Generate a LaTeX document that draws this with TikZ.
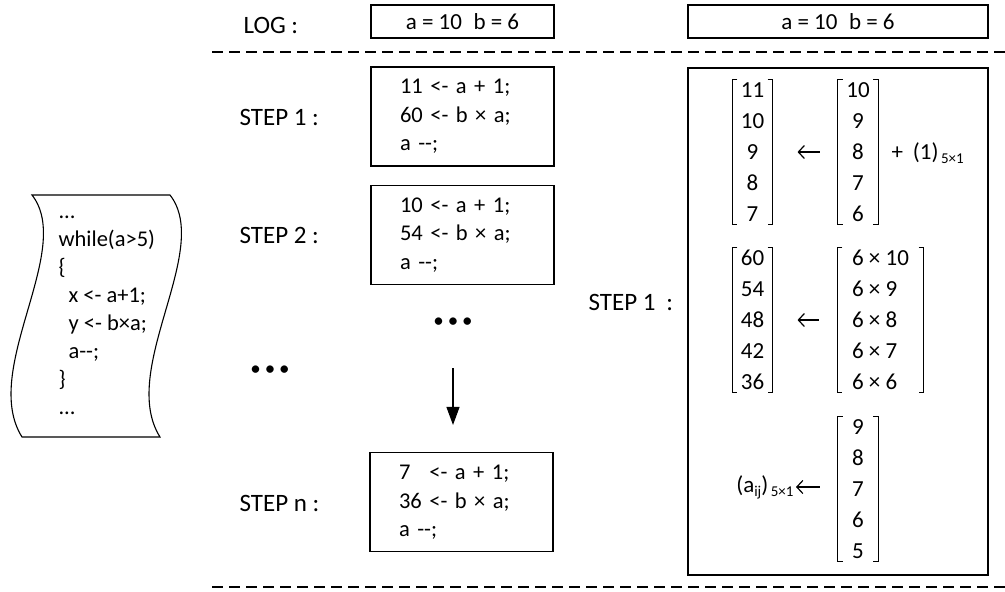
\documentclass[tikz,border=0pt]{standalone}
\usepackage{fontspec}
\setmainfont{Carlito}[Ligatures=TeXOff]
\usetikzlibrary{positioning,arrows.meta}

\newcommand{\vecbrackets}[1]{%
\draw[line width=1pt] (#1.north west) ++(5,0) -- (#1.north west) -- (#1.south west) -- ++(5,0);
\draw[line width=1pt] (#1.north east) ++(-5,0) -- (#1.north east) -- (#1.south east) -- ++(-5,0);
}
\newcommand{\smallsub}[1]{\raisebox{-4pt}{\fontsize{15}{15}\selectfont #1}}

\begin{document}
\begin{tikzpicture}[x=1pt,y=-1pt,line width=1.1pt,
  every node/.style={font=\fontsize{23}{28.5}\selectfont},
  steplabel/.style={font=\fontsize{25}{30}\selectfont,anchor=west,inner sep=0pt},
  logbox/.style={draw,minimum height=33pt,inner sep=0pt},
  stepbox/.style={draw,align=left,text width=125pt,inner xsep=29pt,minimum height=99pt,
    font=\fontsize{22.5}{28.5}\selectfont},
  colvec/.style={align=center,inner sep=0pt,minimum width=39pt,minimum height=144pt,
    font=\fontsize{23}{31}\selectfont},
  sep/.style={dash pattern=on 11pt off 6pt},
  dotrow/.style={font=\fontsize{21}{21}\selectfont,inner sep=0pt},
  gets/.style={{Straight Barb[length=6pt,width=13pt]}-,line width=1.2pt}]
\useasboundingbox (0,0) rectangle (1005,592);

% the loop as written in the program
\draw (32,195) -- (170,195) .. controls (213,250) and (118,370) .. (160,437)
  -- (22,437) .. controls (-20,370) and (75,250) .. (32,195) -- cycle;
\node[align=left,anchor=west,inner sep=0pt,font=\fontsize{22.5}{28}\selectfont] (code) at (58,311)
  {\strut...\\while(a>5)\\\{\\\hspace*{10pt}x <- a+1;\\\hspace*{10pt}y <- b×a;\\\hspace*{10pt}a--;\\\}\\\strut...};

% log row and separators
\node[steplabel] (log) at (243,25) {LOG :};
\node[logbox,minimum width=183pt] (log1) at (462.5,21.5) {a = 10\hspace{0.5em}b = 6};
\node[logbox,minimum width=300pt] (log2) at (838,21.5) {a = 10\hspace{0.5em}b = 6};
\coordinate (sepA) at (212,52);
\coordinate (sepB) at (1005,52);
\coordinate (sepC) at (212,587);
\coordinate (sepD) at (1005,587);
\draw[sep] (sepA) -- (sepB);
\draw[sep] (sepC) -- (sepD);

% steps one by one
\node[steplabel] (l1) at (239,117) {STEP 1 :};
\node[stepbox] (s1) at (462.5,116.5) {11 <- a + 1;\\60 <- b × a;\\a --;};
\node[steplabel] (l2) at (239,235) {STEP 2 :};
\node[stepbox] (s2) at (462.5,235) {10 <- a + 1;\\54 <- b × a;\\a --;};
\node[dotrow] (dots) at (453,323) {•\hspace{4pt}•\hspace{4pt}•};
\node[dotrow] (ldots) at (270,371) {•\hspace{4pt}•\hspace{4pt}•};
\node[steplabel] (ln) at (239,503) {STEP n :};
\node[stepbox] (sn) at (461.5,502) {7\phantom{6} <- a + 1;\\36 <- b × a;\\a --;};
\draw[-{Triangle[length=18pt,width=13pt]},shorten <=45pt,shorten >=27pt] (dots.center) -- (dots.center |- sn.north);

% step 1 as vectors
\node[steplabel] (rl) at (588,302) {STEP 1\hspace{11pt}:};
\node[draw,minimum width=300pt,minimum height=507pt] (big) at (838,321.5) {};

\node[colvec] (v1) at (752.5,152) {11\\10\\9\\8\\7};
\node[colvec] (v2) at (858,152) {10\\9\\8\\7\\6};
\draw[gets,shorten <=25pt,shorten >=18pt] (v1.east) -- (v2.west);
\node[anchor=west,inner sep=0pt] (plus) at (891,153) {+\hspace{10pt}(1)\smallsub{\,5×1}};

\node[colvec] (v3) at (752.5,320) {60\\54\\48\\42\\36};
\node[colvec,align=left,minimum width=85pt] (v4) at (880.5,320) {6 × 10\\6 × 9\\6 × 8\\6 × 7\\6 × 6};
\draw[gets,shorten <=25pt,shorten >=18pt] (v3.east) -- (v4.west);

\node[colvec] (v5) at (858,489) {9\\8\\7\\6\\5};
\node[anchor=east,inner sep=0pt] (aij) at (794,487) {(a\smallsub{ij})\smallsub{\,5×1}};
\draw[gets,shorten <=2pt,shorten >=18pt] (aij.east) -- (aij.east -| v5.west);

\vecbrackets{v1}
\vecbrackets{v2}
\vecbrackets{v3}
\vecbrackets{v4}
\vecbrackets{v5}
\end{tikzpicture}
\end{document}
